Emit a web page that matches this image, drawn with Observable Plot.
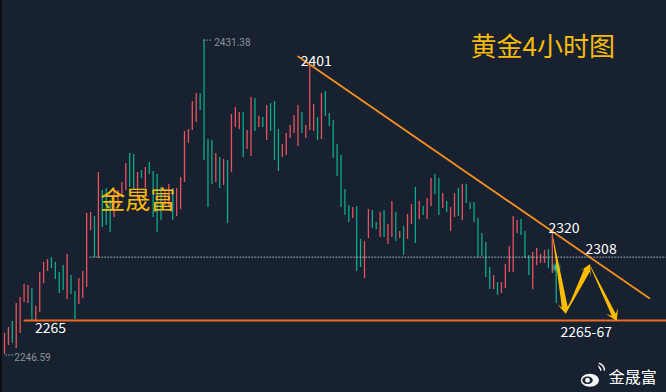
<!DOCTYPE html>
<html>
<head>
<meta charset="utf-8">
<script src="https://cdn.jsdelivr.net/npm/d3@7"></script>
<script src="https://cdn.jsdelivr.net/npm/@observablehq/plot@0.6"></script>
<style>
html,body{margin:0;padding:0;background:#172130;overflow:hidden}
#chart svg{display:block}
</style>
</head>
<body>
<div id="chart"></div>
<script>
const highs = [2258.9,2262.4,2266.0,2276.5,2280.0,2287.7,2287.1,2285.3,2274.8,2294.7,2300.6,2302.3,2303.5,2300.6,2294.7,2298.8,2305.3,2292.9,2283.6,2291.2,
2295.3,2329.3,2329.9,2327.5,2353.4,2342.8,2344.0,2336.9,2342.8,2342.8,2347.5,2358.6,2364.5,2363.9,2353.4,2354.5,2356.3,2359.2,2354.0,2352.2,
2344.6,2342.8,2346.3,2344.0,2344.0,2350.4,2377.4,2378.6,2395.0,2399.7,2399.7,2431.38,2372.7,2372.1,2364.5,2362.2,2361.0,2360.4,2387.4,2391.5,
2388.6,2388.6,2378.0,2397.4,2396.8,2386.2,2385.6,2392.7,2393.8,2395.0,2378.6,2369.8,2376.2,2380.9,2386.8,2392.7,2388.6,2380.9,2417.3,2393.3,
2385.6,2399.7,2400.9,2388.0,2383.9,2369.8,2363.3,2343.4,2334.0,2332.8,2333.4,2314.1,2312.9,2331.7,2331.1,2324.0,2329.9,2331.1,2322.9,2336.3,
2329.9,2318.8,2321.7,2328.7,2334.6,2344.6,2336.3,2333.4,2338.1,2349.8,2352.2,2349.8,2341.0,2336.3,2332.8,2341.0,2344.0,2346.3,2346.3,2335.8,
2335.8,2326.4,2317.6,2312.3,2297.6,2292.9,2288.8,2288.8,2299.4,2310.0,2327.5,2325.2,2325.8,2318.8,2304.7,2306.4,2308.8,2305.3,2307.6,2308.2,
2318.2,2300.0];
const lows = [2246.59,2251.9,2253.1,2250.1,2258.9,2277.1,2276.5,2266.5,2265.4,2271.2,2288.2,2295.3,2297.0,2290.6,2282.4,2284.1,2278.9,2281.8,2267.1,2275.9,
2279.4,2285.9,2319.3,2303.5,2302.9,2321.1,2322.3,2318.2,2327.0,2332.8,2338.7,2342.8,2344.6,2342.8,2336.9,2349.8,2344.0,2352.2,2327.0,2318.2,
2325.2,2334.0,2332.8,2325.2,2327.5,2331.7,2347.5,2370.4,2378.0,2382.7,2389.7,2360.4,2332.8,2346.3,2347.5,2344.0,2345.7,2323.4,2353.4,2379.8,
2378.6,2362.2,2366.9,2362.8,2377.4,2379.8,2379.8,2372.1,2377.4,2360.4,2354.0,2362.2,2363.3,2373.3,2376.2,2368.6,2376.2,2373.3,2378.0,2377.4,
2372.1,2372.7,2386.2,2380.3,2361.6,2351.0,2332.8,2328.1,2324.0,2326.4,2295.3,2297.6,2291.2,2314.6,2320.5,2319.9,2315.2,2315.2,2311.1,2315.2,
2312.9,2314.6,2304.7,2314.1,2322.9,2311.7,2325.8,2328.1,2325.8,2333.4,2340.5,2328.1,2332.2,2329.9,2318.8,2327.0,2327.5,2325.2,2335.2,2331.7,
2324.0,2303.5,2304.1,2291.8,2284.7,2284.7,2281.2,2282.4,2285.3,2294.7,2294.7,2317.6,2316.4,2302.9,2292.9,2284.7,2298.8,2300.0,2300.0,2297.0,
2294.1,2276.5];
const dirs = ("r r g r r r r g r r r r g g g g r g g r r r r g r g g g r r r r g g r g r g g g "
 + "g r r g r r r r r r g g g g r g r g r r r g r r g r g r g g g r r r r r g r r r "
 + "g r g g g g g g g r g g r r g g r g r r g r g r r g r g r r g g r g r r g r g g "
 + "g g g g g r g r r r r r g g g r r r r g r g").split(" ");
const candles = highs.map((high,i)=>({i,high,low:lows[i],dir:dirs[i]}));

const supportIdx = [5.1,169.2], supportPrice = [2266.5,2266.5];
const dottedIdx = [21.8,169.2], dottedPrice = [2303.7,2303.7];
const trendIdx = [75.06,164.8], trendPrice = [2421.4,2279.6];
const arrowStart = [[140.3,2314.6],[143.7,2271.2],[149.9,2297.9]];
const arrowEnd   = [[143.6,2270.1],[149.8,2299.4],[156.6,2265.9]];
const whiteLabels = [["2401",75.7,2418.5],["2320",139.0,2320.5],["2308",148.5,2308.2],["2265",7.8,2261.8],["2265-67",142.1,2259.5]];
const grayLabels = [["2431.38",53.6,2429.6],["2246.59",2.5,2244.8]];
const leaderIdx = [[50.9,53.2],[0.3,2.4]], leaderPrice = [2431,2246.3];

const CJK = '"Noto Sans CJK SC","Noto Sans",sans-serif';
const LAT = 'Roboto,"Noto Sans",sans-serif';

function arrowsMark(index,{x,y}){
  const g = d3.create("svg:g");
  arrowStart.forEach((s,k)=>{
    const e = arrowEnd[k];
    const x0=x(s[0]),y0=y(s[1]),x1=x(e[0]),y1=y(e[1]);
    const L=Math.hypot(x1-x0,y1-y0),ux=(x1-x0)/L,uy=(y1-y0)/L,nx=-uy,ny=ux;
    const head=[11,12,11][k],notch=[7,7,7][k],wing=[6.8,6.6,6.6][k],shaft=[2.9,3.1,2.2][k];
    const P=(a,b)=>[x0+ux*a+nx*b,y0+uy*a+ny*b];
    const pts=[P(0,0.3),P(L-notch,shaft),P(L-head,wing),P(L,0),P(L-head,-wing),P(L-notch,-shaft),P(0,-0.3)];
    g.append("path").attr("d","M"+pts.map(p=>p.map(v=>v.toFixed(2)).join(",")).join("L")+"Z").attr("fill","#fcbd00");
  });
  return g.node();
}
const ell=(c,rx,ry,ox=0,oy=0)=>{const k=0.5523;c.moveTo(ox+rx,oy);
  c.bezierCurveTo(ox+rx,oy+k*ry,ox+k*rx,oy+ry,ox,oy+ry);c.bezierCurveTo(ox-k*rx,oy+ry,ox-rx,oy+k*ry,ox-rx,oy);
  c.bezierCurveTo(ox-rx,oy-k*ry,ox-k*rx,oy-ry,ox,oy-ry);c.bezierCurveTo(ox+k*rx,oy-ry,ox+rx,oy-k*ry,ox+rx,oy);c.closePath();};
const body={draw(c){ell(c,9,6.5);}};
const eye={draw(c){ell(c,5.2,3.8);}};
const waves={draw(c){c.moveTo(3,-7);c.arc(0,0,8.4,-1.15,-0.05);c.moveTo(3.2,-3.5);c.arc(0,0,4.8,-0.85,-0.05);}};

const chart = Plot.plot({
  width:666,height:392,margin:0,
  style:{background:"#172130",fontFamily:LAT},
  x:{type:"linear",domain:[-1.022,169.18],range:[0,666],axis:null},
  y:{type:"linear",domain:[2224.3,2454.26],range:[392,0],axis:null},
  marks:[
    Plot.ruleX([-1.022],{stroke:"#0a0d12",strokeWidth:3}),
    Plot.ruleX(candles,{x:"i",y1:"low",y2:"high",stroke:d=>d.dir==="r"?"#e9525f":"#0fa98c",strokeWidth:1.3}),
    Plot.dot([[141,2297.6]],{x:d=>d[0],y:d=>d[1],r:3.2,fill:"#25d6b0",imageFilter:"blur(1.6px)"}),
    Plot.line(dottedIdx.map((v,i)=>[v,dottedPrice[i]]),{x:d=>d[0],y:d=>d[1],stroke:"#aab0b6",strokeWidth:1,strokeDasharray:"1 2"}),
    Plot.line(supportIdx.map((v,i)=>[v,supportPrice[i]]),{x:d=>d[0],y:d=>d[1],stroke:"#ec6a22",strokeWidth:2}),
    Plot.line(trendIdx.map((v,i)=>[v,trendPrice[i]]),{x:d=>d[0],y:d=>d[1],stroke:"#f58f1e",strokeWidth:1.8}),
    arrowsMark,
    ...leaderIdx.map((xs,k)=>Plot.line(xs.map(v=>[v,leaderPrice[k]]),{x:d=>d[0],y:d=>d[1],stroke:"#8a8f98",strokeWidth:1,strokeDasharray:"1 2"})),
    Plot.text(whiteLabels,{x:d=>d[1],y:d=>d[2],text:d=>d[0],textAnchor:"start",fill:"#ffffff",fontSize:14,fontFamily:CJK}),
    Plot.text(grayLabels,{x:d=>d[1],y:d=>d[2],text:d=>d[0],textAnchor:"start",fill:"#8d929b",fontSize:10,fontFamily:LAT}),
    Plot.text(["黄金4小时图"],{x:()=>119.1,y:()=>2426.7,text:d=>d,textAnchor:"start",fill:"#f8bb08",fontSize:26,fontFamily:CJK}),
    Plot.text(["金晟富"],{x:()=>24.5,y:()=>2336.4,text:d=>d,textAnchor:"start",fill:"#f8bb08",fontSize:25,fontFamily:CJK}),
    Plot.text(["金晟富"],{x:()=>154.4,y:()=>2233.1,text:d=>d,textAnchor:"start",fill:"#ffffff",fontSize:16,fontFamily:CJK}),
    Plot.dot([0],{x:()=>149.6,y:()=>2231.5,symbol:body,r:1,fill:"#f4f4f4"}),
    Plot.dot([0],{x:()=>149.0,y:()=>2231.5,symbol:eye,r:1,fill:"#172130"}),
    Plot.dot([0],{x:()=>149.0,y:()=>2231.5,r:2.4,fill:"#f4f4f4"}),
    Plot.dot([0],{x:()=>151.2,y:()=>2236.9,symbol:waves,r:1,fill:"none",stroke:"#f4f4f4",strokeWidth:1.5})
  ]
});
document.getElementById("chart").appendChild(chart);
</script>
</body>
</html>
